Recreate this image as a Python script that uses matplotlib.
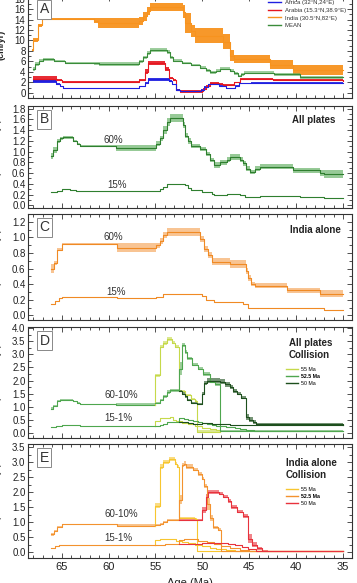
import matplotlib

matplotlib.use("Agg")
import matplotlib.pyplot as plt
import numpy as np
from matplotlib.ticker import MultipleLocator

plt.rcParams["font.family"] = ["Liberation Sans", "DejaVu Sans"]

# ---- Panel A: velocities (cm/yr), step curves with uncertainty half-width
AGE_INDIA = [68.2, 68.0, 67.5, 67.1, 61.6, 61.1, 56.7, 56.3, 55.9, 55.6, 52.1, 51.9, 51.2, 50.8,
             47.8, 47.0, 46.6, 42.8, 40.3, 35.0]
INDIA = [8.2, 10.1, 12.9, 14.1, 13.8, 13.35, 13.8, 14.6, 15.6, 16.4, 15.5, 13.3, 11.8, 10.9,
         9.8, 7.1, 6.45, 5.4, 4.35, 4.35]
INDIA_ERR = [0.2, 0.35, 0.3, 0.15, 0.45, 0.95, 0.75, 0.8, 0.8, 0.85, 1.2, 1.9, 1.1, 1.45,
             1.5, 1.1, 0.85, 0.8, 0.95, 0.95]

AGE_MEAN = [68.1, 67.8, 67.4, 67.0, 65.8, 64.6, 61.6, 61.0, 56.7, 56.3, 55.9, 55.6, 53.8, 53.4,
            53.1, 52.2, 51.2, 50.3, 49.6, 49.2, 48.5, 48.1, 47.1, 46.6, 46.2, 45.9, 45.6, 42.4,
            39.6, 35.0]
MEAN = [4.6, 5.5, 6.1, 6.4, 6.1, 5.7, 5.6, 5.5, 6.0, 6.8, 7.6, 8.2, 7.8, 6.8,
        6.1, 5.7, 5.3, 4.8, 4.3, 3.9, 4.2, 4.6, 4.2, 3.7, 3.2, 3.5, 3.8, 3.5,
        3.0, 3.0]
MEAN_ERR = [0.4, 0.3, 0.3, 0.25, 0.2, 0.15, 0.3, 0.4, 0.3, 0.3, 0.35, 0.4, 0.35, 0.3,
            0.3, 0.25, 0.25, 0.25, 0.25, 0.25, 0.25, 0.25, 0.25, 0.25, 0.2, 0.25, 0.3, 0.3,
            0.3, 0.3]

AGE_ARABIA = [68.1, 65.5, 65.0, 56.7, 56.1, 55.8, 54.0, 53.6, 53.1, 52.8, 52.4, 49.9, 49.6,
              49.2, 48.2, 47.8, 46.6, 46.0, 42.5, 35.0]
ARABIA = [2.7, 2.4, 2.1, 2.4, 4.0, 5.7, 4.5, 2.8, 2.4, 0.6, 0.3, 0.7, 1.3,
          1.9, 1.7, 1.5, 2.0, 2.6, 2.4, 2.3]
ARABIA_ERR = [0.45, 0.2, 0.1, 0.2, 0.5, 0.45, 0.4, 0.2, 0.2, 0.2, 0.25, 0.15, 0.15,
              0.1, 0.1, 0.1, 0.1, 0.2, 0.2, 0.2]

AGE_AFRICA = [68.1, 65.6, 65.2, 64.8, 56.7, 56.1, 55.8, 53.6, 53.2, 52.8, 52.4, 50.1, 49.8,
              49.4, 48.2, 47.5, 46.5, 46.1, 44.8, 35.0]
AFRICA = [2.2, 1.7, 1.2, 0.9, 1.2, 1.8, 2.6, 2.3, 1.6, 0.6, 0.25, 0.6, 1.1,
          1.6, 1.3, 0.9, 1.3, 1.8, 1.9, 1.9]
AFRICA_ERR = [0.25, 0.1, 0.1, 0.07, 0.1, 0.2, 0.3, 0.2, 0.15, 0.15, 0.1, 0.1, 0.1,
              0.1, 0.1, 0.1, 0.1, 0.15, 0.15, 0.15]

# ---- Panel B: all plates
AGE_B60 = [66.1, 65.9, 65.5, 65.2, 64.8, 63.8, 63.4, 63.0, 59.2, 54.9, 54.5, 54.2, 53.8, 53.5,
           52.1, 51.9, 51.5, 51.2, 50.3, 49.6, 49.2, 48.8, 48.1, 47.4, 47.1, 46.0, 45.7, 45.3,
           44.9, 44.4, 43.9, 40.3, 37.5, 37.0, 35.0]
B60 = [0.92, 1.03, 1.2, 1.25, 1.27, 1.2, 1.15, 1.1, 1.07, 1.15, 1.25, 1.4, 1.55, 1.63,
       1.5, 1.3, 1.2, 1.1, 1.05, 0.95, 0.85, 0.75, 0.8, 0.85, 0.9, 0.85, 0.78, 0.68,
       0.62, 0.68, 0.72, 0.65, 0.6, 0.58, 0.58]
B60_ERR = [0.06, 0.05, 0.04, 0.03, 0.03, 0.02, 0.02, 0.02, 0.06, 0.05, 0.05, 0.07, 0.07, 0.08,
           0.06, 0.05, 0.05, 0.04, 0.04, 0.04, 0.04, 0.05, 0.05, 0.05, 0.05, 0.05, 0.05, 0.05,
           0.04, 0.05, 0.05, 0.05, 0.05, 0.07, 0.07]
AGE_B15 = [66.1, 65.5, 65.0, 64.1, 63.5, 54.5, 54.2, 53.8, 51.9, 51.5, 51.2, 50.0, 49.0, 48.8,
           47.4, 46.0, 45.5, 43.9, 39.6, 37.0, 35.0]
B15 = [0.24, 0.27, 0.3, 0.28, 0.27, 0.3, 0.35, 0.4, 0.37, 0.33, 0.29, 0.25, 0.21, 0.19,
       0.22, 0.2, 0.15, 0.18, 0.15, 0.13, 0.13]

# ---- Panel C: India alone
AGE_C60 = [66.1, 65.8, 65.5, 65.0, 59.1, 54.9, 54.5, 54.2, 53.8, 50.2, 49.8, 49.4, 49.0, 47.1,
           45.3, 45.1, 44.8, 44.4, 41.0, 37.5, 35.0]
C60 = [0.6, 0.67, 0.84, 0.92, 0.87, 0.9, 0.95, 1.03, 1.07, 0.98, 0.85, 0.77, 0.69, 0.66,
       0.57, 0.48, 0.4, 0.38, 0.32, 0.28, 0.28]
C60_ERR = [0.06, 0.03, 0.02, 0.01, 0.06, 0.03, 0.04, 0.04, 0.05, 0.04, 0.04, 0.04, 0.05, 0.05,
           0.04, 0.04, 0.03, 0.03, 0.03, 0.04, 0.04]
AGE_C15 = [66.1, 65.7, 65.3, 65.0, 59.1, 54.9, 54.5, 54.2, 50.0, 49.6, 48.8, 45.7, 45.1, 41.0,
           37.0, 35.0]
C15 = [0.15, 0.18, 0.22, 0.23, 0.22, 0.23, 0.24, 0.27, 0.25, 0.2, 0.17, 0.15, 0.1, 0.09,
       0.07, 0.07]

# ---- Panel D: all plates, collision at 55 / 52.5 / 50 Ma
AGE_D_BASE60 = [66.1, 65.9, 65.5, 65.2, 64.8, 63.8, 63.4, 63.0, 59.2, 55.0]
D_BASE60 = [0.92, 1.03, 1.2, 1.25, 1.27, 1.2, 1.15, 1.1, 1.08, 1.08]
D_BASE60_ERR = [0.06, 0.05, 0.04, 0.03, 0.03, 0.02, 0.02, 0.02, 0.05, 0.05]
AGE_D55 = [55.0, 55.0, 54.5, 54.2, 53.8, 53.2, 52.9, 52.5, 51.9, 51.2, 50.8, 50.6, 48.1]
D55 = [1.08, 2.2, 3.3, 3.45, 3.58, 3.45, 3.3, 1.6, 1.45, 1.3, 1.2, 0.04, 0.04]
D55_ERR = [0.02, 0.05, 0.06, 0.08, 0.08, 0.06, 0.05, 0.04, 0.04, 0.04, 0.04, 0.05, 0.05]
AGE_D525 = [55.0, 54.5, 54.2, 53.8, 53.5, 52.5, 52.2, 51.9, 51.6, 51.1, 50.5, 49.9, 49.2, 48.6,
            48.1, 35.0]
D525 = [1.15, 1.25, 1.4, 1.55, 1.62, 2.45, 3.35, 3.1, 2.85, 2.6, 2.45, 2.25, 1.95, 1.85,
        0.07, 0.07]
D525_ERR = [0.04, 0.05, 0.06, 0.07, 0.07, 0.25, 0.08, 0.08, 0.07, 0.06, 0.06, 0.06, 0.05, 0.05,
            0.02, 0.02]
AGE_D50 = [52.5, 52.2, 51.9, 51.6, 51.2, 50.6, 50.0, 49.8, 49.5, 48.1, 47.6, 47.1, 46.7, 46.3,
           45.9, 45.3, 45.0, 44.6, 44.3, 35.0]
D50 = [1.6, 1.5, 1.4, 1.25, 1.15, 1.1, 1.5, 1.9, 2.0, 1.95, 1.85, 1.75, 1.6, 1.5,
       1.35, 0.6, 0.5, 0.4, 0.33, 0.3]
D50_ERR = [0.05, 0.05, 0.05, 0.04, 0.04, 0.04, 0.06, 0.08, 0.1, 0.1, 0.08, 0.08, 0.08, 0.07,
           0.07, 0.12, 0.1, 0.08, 0.03, 0.03]
AGE_D_BASE15 = [66.1, 65.6, 65.0, 64.0, 63.0, 55.0]
D_BASE15 = [0.22, 0.26, 0.29, 0.28, 0.27, 0.27]
AGE_D55_15 = [55.0, 55.0, 54.5, 53.5, 53.1, 52.8, 52.2, 51.5, 50.8, 50.0, 49.2, 48.5, 48.1]
D55_15 = [0.27, 0.45, 0.58, 0.6, 0.5, 0.45, 0.38, 0.33, 0.27, 0.2, 0.15, 0.1, 0.06]
AGE_D525_15 = [55.0, 54.5, 54.2, 53.8, 52.5, 52.0, 51.5, 51.0, 50.5, 50.0, 49.5, 49.0, 48.5,
               48.1, 47.5, 46.5, 46.0, 45.3, 44.5, 35.0]
D525_15 = [0.27, 0.3, 0.35, 0.4, 0.55, 0.52, 0.48, 0.45, 0.4, 0.37, 0.33, 0.3, 0.27,
           0.25, 0.22, 0.2, 0.16, 0.1, 0.08, 0.07]
AGE_D50_15 = [52.5, 52.0, 51.5, 51.0, 50.0, 49.0, 48.0, 47.0, 46.0, 45.3, 44.5, 35.0]
D50_15 = [0.42, 0.4, 0.37, 0.33, 0.36, 0.35, 0.33, 0.31, 0.3, 0.28, 0.3, 0.28]

# ---- Panel E: India alone, collision at 55 / 52.5 / 50 Ma
AGE_E_BASE60 = [66.1, 65.8, 65.5, 65.0, 59.1, 55.0]
E_BASE60 = [0.6, 0.7, 0.85, 0.92, 0.88, 0.88]
E_BASE60_ERR = [0.05, 0.03, 0.02, 0.01, 0.04, 0.04]
AGE_E55 = [55.0, 55.0, 54.5, 54.2, 53.6, 52.9, 52.7, 52.5, 50.8, 50.6, 35.0]
E55 = [0.88, 1.55, 2.85, 3.0, 3.1, 2.95, 2.85, 1.15, 1.1, 0.02, 0.02]
E55_ERR = [0.02, 0.08, 0.07, 0.07, 0.07, 0.06, 0.06, 0.03, 0.03, 0.02, 0.02]
AGE_E525 = [55.0, 54.5, 54.2, 53.8, 52.5, 52.2, 52.0, 51.7, 51.0, 50.5, 50.0, 49.8, 49.5, 49.2,
            48.9, 48.3, 48.0, 35.0]
E525 = [0.9, 0.95, 1.0, 1.07, 1.75, 2.9, 2.95, 2.85, 2.75, 2.6, 2.45, 2.2, 1.6, 1.15,
        0.82, 0.75, 0.02, 0.02]
E525_ERR = [0.02, 0.03, 0.03, 0.03, 0.15, 0.08, 0.08, 0.07, 0.06, 0.06, 0.06, 0.08, 0.2, 0.1,
            0.04, 0.04, 0.02, 0.02]
AGE_E50 = [52.5, 50.0, 49.6, 49.4, 48.2, 47.8, 47.3, 46.9, 46.3, 45.7, 45.1, 44.7, 44.2, 43.6,
           43.0, 35.0]
E50 = [1.07, 1.4, 1.85, 2.0, 1.95, 1.85, 1.7, 1.5, 1.35, 1.2, 0.45, 0.25, 0.12, 0.05,
       0.02, 0.02]
E50_ERR = [0.02, 0.1, 0.1, 0.06, 0.06, 0.06, 0.06, 0.06, 0.06, 0.07, 0.15, 0.08, 0.05, 0.03,
           0.02, 0.02]
AGE_E_BASE15 = [66.1, 65.7, 65.3, 59.0, 55.0]
E_BASE15 = [0.15, 0.2, 0.24, 0.22, 0.22]
AGE_E55_15 = [55.0, 55.0, 54.5, 53.2, 52.8, 52.2, 51.5, 50.8, 50.0, 49.2, 48.5, 47.5, 46.5, 35.0]
E55_15 = [0.22, 0.4, 0.45, 0.42, 0.38, 0.33, 0.3, 0.25, 0.2, 0.15, 0.1, 0.06, 0.03, 0.02]
AGE_E525_15 = [55.0, 54.5, 54.0, 52.5, 52.0, 51.5, 50.5, 49.5, 48.8, 48.0, 47.0, 46.0, 45.0, 35.0]
E525_15 = [0.22, 0.24, 0.27, 0.4, 0.45, 0.42, 0.38, 0.33, 0.27, 0.2, 0.12, 0.06, 0.03, 0.02]
AGE_E50_15 = [52.5, 50.0, 48.0, 47.3, 46.5, 45.8, 45.1, 44.3, 43.5, 35.0]
E50_15 = [0.27, 0.3, 0.3, 0.27, 0.22, 0.18, 0.1, 0.05, 0.02, 0.02]

# colours
BLUE, RED, ORANGE, GREEN = "#1f1fe0", "#e5161f", "#f7931e", "#3a8c3a"
G55, G525, G50 = "#c6d94a", "#4ea64e", "#1d4f1d"
Y55, O525, R50 = "#f7c62f", "#f3922e", "#e8323c"


def step_band(ax, age, val, err, line, fill, alpha=0.65, lw=0.8):
    val = np.asarray(val)
    err = np.asarray(err)
    ax.fill_between(age, val - err, val + err, step="post", color=fill, alpha=alpha, lw=0)
    ax.step(age, val, where="post", color=line, lw=lw)


def step_line(ax, age, val, color, lw=0.8):
    ax.step(age, val, where="post", color=color, lw=lw)


def style(ax, ylim, major, minor, letter):
    ax.set_xlim(68.55, 34.05)
    ax.set_ylim(*ylim)
    ax.xaxis.set_major_locator(MultipleLocator(5))
    ax.xaxis.set_minor_locator(MultipleLocator(1))
    ax.yaxis.set_major_locator(MultipleLocator(major))
    ax.yaxis.set_minor_locator(MultipleLocator(minor))
    ax.tick_params(which="both", direction="in", top=True, right=True, width=0.6,
                   colors="#333333", labelcolor="#222222")
    ax.tick_params(which="major", length=3.5, labelsize=7, pad=2)
    ax.tick_params(which="minor", length=2)
    for s in ax.spines.values():
        s.set_linewidth(0.8)
        s.set_color("#333333")
    ax.text(0.035, 0.94, letter, transform=ax.transAxes, ha="left", va="top", fontsize=10,
            color="#333333",
            bbox=dict(boxstyle="square,pad=0.18", fc="white", ec="#888888", lw=0.7))


W, H = 357, 583
fig = plt.figure(figsize=(W / 100, H / 100), dpi=100)
left, width = 28.3 / W, 323.7 / W
boxes = [(-4, 98), (106, 208), (214, 320), (327, 438), (444, 558)]
axes = [fig.add_axes([left, 1 - b / H, width, (b - t) / H]) for t, b in boxes]
axA, axB, axC, axD, axE = axes

# A
step_band(axA, AGE_INDIA, INDIA, INDIA_ERR, ORANGE, ORANGE, alpha=0.95)
step_band(axA, AGE_MEAN, MEAN, MEAN_ERR, GREEN, "#5fae5f", alpha=0.6)
step_band(axA, AGE_ARABIA, ARABIA, ARABIA_ERR, RED, RED, alpha=0.9)
step_band(axA, AGE_AFRICA, AFRICA, AFRICA_ERR, BLUE, BLUE, alpha=0.9)
style(axA, (-1.0, 18.5), 2, 1, "A")
hA = [plt.Line2D([], [], color=c, lw=1) for c in (BLUE, RED, ORANGE, GREEN)]
legA = axA.legend(hA, ["Africa (32°N,24°E)", "Arabia (15.3°N,38.9°E)", "India (30.5°N,82°E)",
                       "MEAN"], loc="upper left", bbox_to_anchor=(0.73, 1.0), frameon=False,
                  fontsize=4.3, handlelength=2.2, handletextpad=0.6, labelspacing=0.45,
                  borderaxespad=0.2)
for t in legA.get_texts():
    t.set_color("#333333")

# B
step_band(axB, AGE_B60, B60, B60_ERR, "#2f7f2f", "#5fae5f")
step_line(axB, AGE_B15, B15, "#2f7f2f")
style(axB, (-0.05, 1.85), 0.2, 0.1, "B")
axB.text(59.5, 1.21, "60%", ha="center", va="center", fontsize=7, color="#333333")
axB.text(59.1, 0.37, "15%", ha="center", va="center", fontsize=7, color="#333333")
axB.text(0.95, 0.86, "All plates", transform=axB.transAxes, ha="right", va="center",
         fontsize=7, fontweight="bold", color="#222222")

# C
step_band(axC, AGE_C60, C60, C60_ERR, "#f08a24", "#f5a55a")
step_line(axC, AGE_C15, C15, "#f08a24")
style(axC, (-0.06, 1.3), 0.2, 0.1, "C")
axC.text(59.5, 1.01, "60%", ha="center", va="center", fontsize=7, color="#333333")
axC.text(59.2, 0.3, "15%", ha="center", va="center", fontsize=7, color="#333333")
axC.text(0.965, 0.85, "India alone", transform=axC.transAxes, ha="right", va="center",
         fontsize=7, fontweight="bold", color="#222222")

# D
step_band(axD, AGE_D_BASE60, D_BASE60, D_BASE60_ERR, G525, G525, alpha=0.55)
step_line(axD, AGE_D_BASE15, D_BASE15, G525)
step_band(axD, AGE_D55, D55, D55_ERR, G55, G55, alpha=0.6)
step_line(axD, AGE_D55_15, D55_15, G55)
step_band(axD, AGE_D525, D525, D525_ERR, G525, G525, alpha=0.55)
step_line(axD, AGE_D525_15, D525_15, G525)
step_band(axD, AGE_D50, D50, D50_ERR, G50, G50, alpha=0.6)
step_line(axD, AGE_D50_15, D50_15, G50)
style(axD, (-0.2, 4.05), 0.5, 0.25, "D")
axD.text(58.6, 1.46, "60-10%", ha="center", va="center", fontsize=7, color="#333333")
axD.text(59.0, 0.57, "15-1%", ha="center", va="center", fontsize=7, color="#333333")
axD.text(0.805, 0.80, "All plates\nCollision", transform=axD.transAxes, ha="left",
         va="center", fontsize=7, fontweight="bold", color="#222222", linespacing=1.25)
hD = [plt.Line2D([], [], color=c, lw=1) for c in (G55, G525, G50)]
legD = axD.legend(hD, ["55 Ma", "52.5 Ma", "50 Ma"], loc="upper left",
                  bbox_to_anchor=(0.79, 0.66), frameon=False, fontsize=3.8, handlelength=2.2,
                  handletextpad=0.6, labelspacing=0.35, borderaxespad=0)
legD.get_texts()[1].set_fontweight("bold")

# E
step_band(axE, AGE_E_BASE60, E_BASE60, E_BASE60_ERR, O525, O525, alpha=0.55)
step_line(axE, AGE_E_BASE15, E_BASE15, O525)
step_band(axE, AGE_E55, E55, E55_ERR, Y55, Y55, alpha=0.6)
step_line(axE, AGE_E55_15, E55_15, Y55)
step_band(axE, AGE_E525, E525, E525_ERR, O525, O525, alpha=0.55)
step_line(axE, AGE_E525_15, E525_15, O525)
step_band(axE, AGE_E50, E50, E50_ERR, R50, R50, alpha=0.6)
step_line(axE, AGE_E50_15, E50_15, R50)
style(axE, (-0.2, 3.6), 0.5, 0.25, "E")
axE.text(58.6, 1.27, "60-10%", ha="center", va="center", fontsize=7, color="#333333")
axE.text(59.0, 0.46, "15-1%", ha="center", va="center", fontsize=7, color="#333333")
axE.text(0.795, 0.785, "India alone\nCollision", transform=axE.transAxes, ha="left",
         va="center", fontsize=7, fontweight="bold", color="#222222", linespacing=1.25)
hE = [plt.Line2D([], [], color=c, lw=1) for c in (Y55, O525, R50)]
legE = axE.legend(hE, ["55 Ma", "52.5 Ma", "50 Ma"], loc="upper left",
                  bbox_to_anchor=(0.79, 0.64), frameon=False, fontsize=3.8, handlelength=2.2,
                  handletextpad=0.6, labelspacing=0.35, borderaxespad=0)
legE.get_texts()[1].set_fontweight("bold")

for ax in axes[:-1]:
    ax.tick_params(labelbottom=False)
axE.tick_params(axis="x", labelsize=8, pad=3)
axE.set_xlabel("Age (Ma)", fontsize=8, labelpad=4, color="#222222")

# y-axis titles (cropped at the left edge in the original)
fig.text(-0.012, 1 - 45 / H, "Velocity\n(cm/yr)", rotation=90, ha="center", va="center",
         fontsize=6.5, fontweight="bold", color="#222222")
for t, b in boxes[1:]:
    fig.text(-0.006, 1 - (t + b) / 2 / H, "Flux (10$^6$ km$^2$/Myr)", rotation=90,
             ha="center", va="center", fontsize=6.5, color="#222222")

fig.savefig("out.png", dpi=100)
